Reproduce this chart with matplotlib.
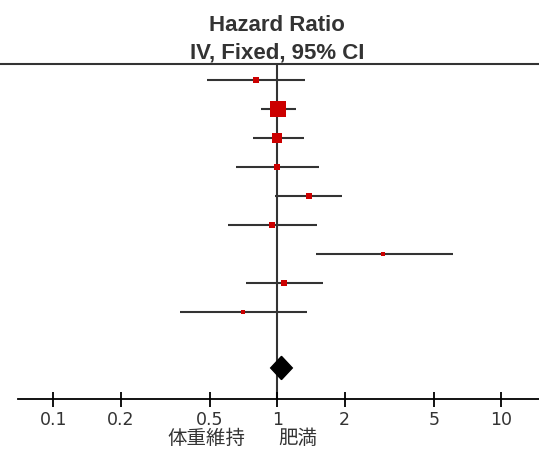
import numpy as np
import matplotlib.pyplot as plt
from matplotlib.patches import Polygon

# study rows, top to bottom
hr = [0.806, 1.01, 1.00, 1.00, 1.381, 0.944, 2.97, 1.075, 0.700]
ci_lo = [0.486, 0.846, 0.781, 0.654, 0.974, 0.604, 1.483, 0.723, 0.367]
ci_hi = [1.334, 1.212, 1.312, 1.540, 1.950, 1.509, 6.09, 1.605, 1.361]
weight = [6.5, 40.8, 18.1, 6.5, 8.2, 5.6, 2.7, 7.6, 4.0]  # percent

# pooled estimate
total_hr = 1.044
total_lo = 0.934
total_hi = 1.167

ticks = [0.1, 0.2, 0.5, 1, 2, 5, 10]
tick_labels = ["0.1", "0.2", "0.5", "1", "2", "5", "10"]
title_lines = ["Hazard Ratio", "IV, Fixed, 95% CI"]
favours_left = "体重維持"
favours_right = "肥満"

W, H = 539, 451
fig = plt.figure(figsize=(W / 100, H / 100), dpi=100)

# axes from the top rule (y=64.5px) down to the scale line (y=398.5px)
top_px, bot_px = 64.5, 398.5
ax = fig.add_axes([0, (H - bot_px) / H, 1, (bot_px - top_px) / H])

x0_px, decade = 277.3, 224.0  # pixel of HR=1, pixels per decade
ax.set_xscale("log")
ax.set_xlim(10 ** (-x0_px / decade), 10 ** ((W - x0_px) / decade))

row_px, row0_px = 29.0, 80.0
ax.set_ylim((bot_px - row0_px) / row_px, (top_px - row0_px) / row_px)

dark = "#333333"
red = "#cc0000"
rows = np.arange(len(hr))

# confidence intervals
ax.hlines(rows, ci_lo, ci_hi, color=dark, lw=1.5, zorder=2)
ax.axvline(1, color=dark, lw=1.5, zorder=1)

# weighted squares
sides = 2.35 * np.sqrt(weight) * 0.72  # points
for r, x, s in zip(rows, hr, sides):
    ax.plot(x, r, marker="s", ms=s, color=red, mew=0, zorder=3, ls="none")

# pooled diamond
yd = 9.93
hd = 0.40
diamond = Polygon([[total_lo, yd], [total_hr, yd - hd], [total_hi, yd], [total_hr, yd + hd]],
                  closed=True, color="black", zorder=4)
ax.add_patch(diamond)

# spines and axis
for s in ["left", "right"]:
    ax.spines[s].set_visible(False)
ax.spines["top"].set_color(dark)
ax.spines["top"].set_linewidth(1.5)
ax.spines["bottom"].set_color("black")
ax.spines["bottom"].set_linewidth(1.3)
ax.spines["bottom"].set_bounds(10 ** ((18.3 - x0_px) / decade), 10 ** ((W - x0_px) / decade))

ax.set_yticks([])
ax.set_xticks(ticks)
ax.set_xticklabels(tick_labels)
ax.xaxis.set_minor_locator(plt.NullLocator())
ax.tick_params(axis="x", direction="inout", length=10.8, width=1.3, pad=3.5,
               labelsize=12.5, labelcolor=dark, color="black")
ax.patch.set_visible(False)

# header
fig.text(x0_px / W, 1 - 31 / H, title_lines[0], ha="center", va="baseline",
         fontsize=16, fontweight="bold", color=dark, family="Liberation Sans")
fig.text(x0_px / W, 1 - 59 / H, title_lines[1], ha="center", va="baseline",
         fontsize=16, fontweight="bold", color=dark, family="Liberation Sans")

# favours labels
jp = ["Noto Sans CJK JP", "DejaVu Sans"]
fig.text(245 / W, 1.5 / H, favours_left, ha="right", va="bottom",
         fontsize=14, color=dark, family=jp)
fig.text(278 / W, 1.5 / H, favours_right, ha="left", va="bottom",
         fontsize=14, color=dark, family=jp)

fig.savefig("out.png", dpi=100)
